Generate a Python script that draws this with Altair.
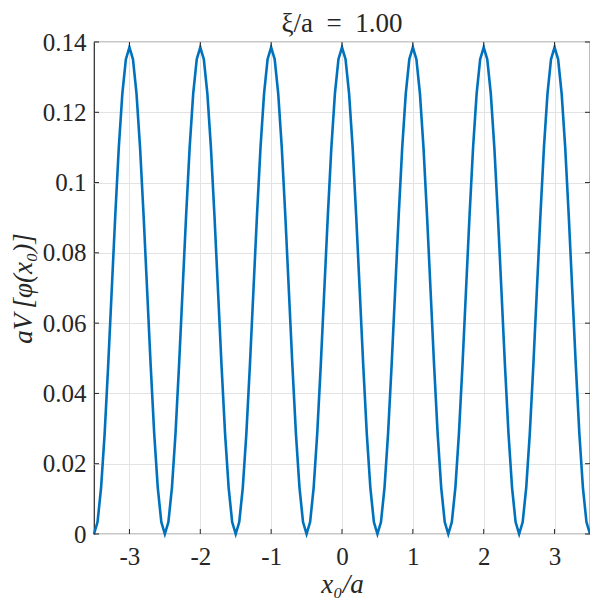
import altair as alt
import numpy as np
import pandas as pd

# sample grid (step 0.05 from -3.5 to 3.5)
x_vals = np.round(np.linspace(-3.5, 3.5, 141), 2)

# values, one row per period (x = -3.5 ... 3.45), plus the last point
y_rows = [
    [0.0000, 0.0034, 0.0132, 0.0285, 0.0479, 0.0693, 0.0906, 0.1100, 0.1253, 0.1351,
     0.1385, 0.1351, 0.1253, 0.1100, 0.0906, 0.0693, 0.0479, 0.0285, 0.0132, 0.0034],
    [0.0000, 0.0034, 0.0132, 0.0285, 0.0479, 0.0693, 0.0906, 0.1100, 0.1253, 0.1351,
     0.1385, 0.1351, 0.1253, 0.1100, 0.0906, 0.0693, 0.0479, 0.0285, 0.0132, 0.0034],
    [0.0000, 0.0034, 0.0132, 0.0285, 0.0479, 0.0693, 0.0906, 0.1100, 0.1253, 0.1351,
     0.1385, 0.1351, 0.1253, 0.1100, 0.0906, 0.0693, 0.0479, 0.0285, 0.0132, 0.0034],
    [0.0000, 0.0034, 0.0132, 0.0285, 0.0479, 0.0693, 0.0906, 0.1100, 0.1253, 0.1351,
     0.1385, 0.1351, 0.1253, 0.1100, 0.0906, 0.0693, 0.0479, 0.0285, 0.0132, 0.0034],
    [0.0000, 0.0034, 0.0132, 0.0285, 0.0479, 0.0693, 0.0906, 0.1100, 0.1253, 0.1351,
     0.1385, 0.1351, 0.1253, 0.1100, 0.0906, 0.0693, 0.0479, 0.0285, 0.0132, 0.0034],
    [0.0000, 0.0034, 0.0132, 0.0285, 0.0479, 0.0693, 0.0906, 0.1100, 0.1253, 0.1351,
     0.1385, 0.1351, 0.1253, 0.1100, 0.0906, 0.0693, 0.0479, 0.0285, 0.0132, 0.0034],
    [0.0000, 0.0034, 0.0132, 0.0285, 0.0479, 0.0693, 0.0906, 0.1100, 0.1253, 0.1351,
     0.1385, 0.1351, 0.1253, 0.1100, 0.0906, 0.0693, 0.0479, 0.0285, 0.0132, 0.0034],
    [0.0000],
]
y_vals = [v for row in y_rows for v in row]

x_ticks = [-3, -2, -1, 0, 1, 2, 3]
y_ticks = [0, 0.02, 0.04, 0.06, 0.08, 0.1, 0.12, 0.14]
title_text = "ξ/a\u2002=\u20021.00"

W, H = 496, 492
FONT = "Liberation Serif"
AX = "#262626"

df = pd.DataFrame({"x": x_vals, "y": y_vals})
dfx = pd.DataFrame({"x": x_ticks})
dfy = pd.DataFrame({"y": y_ticks})
dft = pd.DataFrame({"t": [title_text]})

xscale = alt.Scale(domain=[-3.5, 3.5], nice=False, zero=False)
yscale = alt.Scale(domain=[0, 0.14], nice=False, zero=False)

line = alt.Chart(df).mark_line(color="#0072BD", strokeWidth=2.6).encode(
    x=alt.X("x:Q", scale=xscale,
            axis=alt.Axis(values=x_ticks, title="x₀/a", grid=True, ticks=False,
                          labelExpr="toString(datum.value)", labelPadding=10,
                          titlePadding=2, titleFontStyle="italic", titleFontWeight="normal")),
    y=alt.Y("y:Q", scale=yscale,
            axis=alt.Axis(values=y_ticks, title="aV\u2009[φ(x₀)]", grid=True, ticks=False,
                          labelExpr="toString(datum.value)", labelPadding=8,
                          titlePadding=5, titleFontStyle="italic", titleFontWeight="normal")),
)

tick_len = 5
xb = alt.Chart(dfx).mark_rule(color=AX, strokeWidth=1).encode(
    x=alt.X("x:Q", scale=xscale), y=alt.value(H), y2=alt.value(H - tick_len))
xt = alt.Chart(dfx).mark_rule(color=AX, strokeWidth=1).encode(
    x=alt.X("x:Q", scale=xscale), y=alt.value(0), y2=alt.value(tick_len))
yl = alt.Chart(dfy).mark_rule(color=AX, strokeWidth=1).encode(
    y=alt.Y("y:Q", scale=yscale), x=alt.value(0), x2=alt.value(tick_len))
yr = alt.Chart(dfy).mark_rule(color=AX, strokeWidth=1).encode(
    y=alt.Y("y:Q", scale=yscale), x=alt.value(W), x2=alt.value(W - tick_len))

title = alt.Chart(dft).mark_text(
    font=FONT, fontSize=27, color=AX, align="center", baseline="alphabetic"
).encode(text="t:N", x=alt.value(W / 2), y=alt.value(-10))

chart = alt.layer(line, xb, xt, yl, yr, title).properties(
    width=W, height=H,
    autosize=alt.AutoSizeParams(type="none"),
    padding={"left": 86, "top": 34, "right": 0, "bottom": 70},
).configure_view(
    stroke=AX, strokeWidth=1.2
).configure_axis(
    labelFont=FONT, titleFont=FONT, labelFontSize=25, titleFontSize=27,
    labelColor=AX, titleColor=AX, domain=False,
    gridColor="#e3e3e3", gridWidth=1,
)

chart.save("out.html", embed_options={"renderer": "svg", "actions": False})
